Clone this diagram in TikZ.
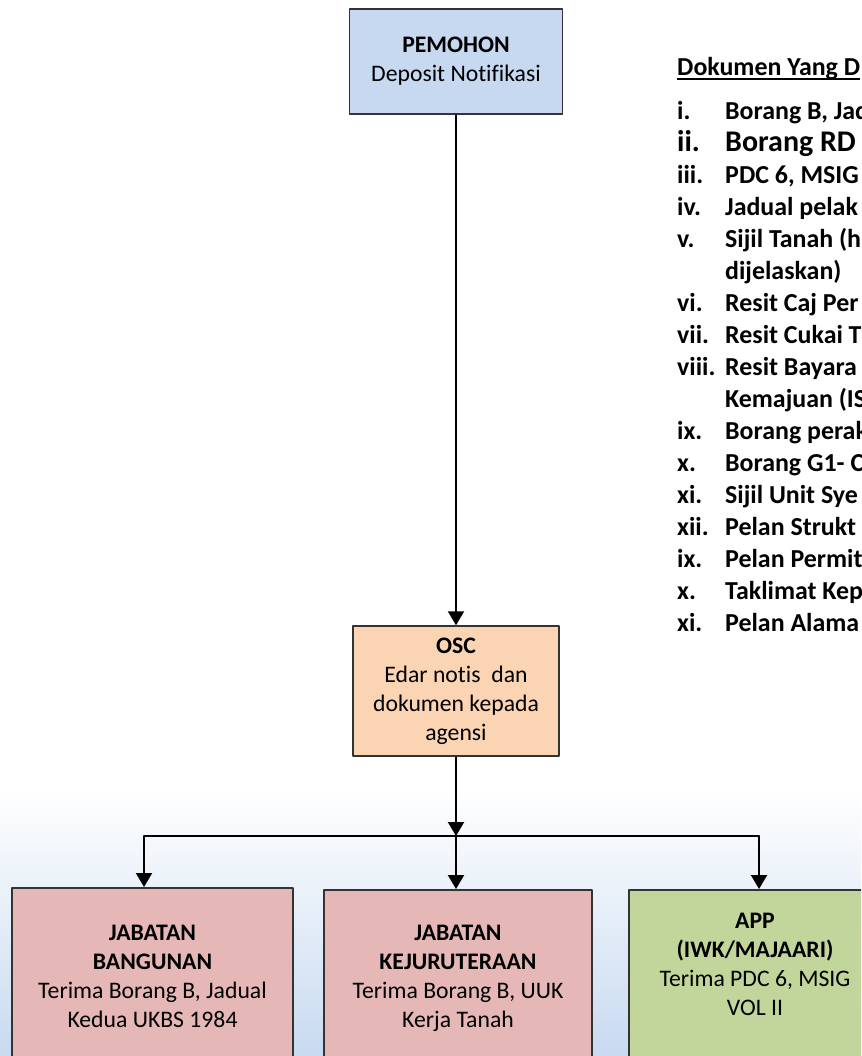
\documentclass[tikz,border=0pt]{standalone}
\usepackage{fontspec}
\setmainfont{Carlito}[Ligatures=NoCommon]
\usetikzlibrary{arrows.meta}
\definecolor{pemohonblue}{HTML}{C6D9F0}
\definecolor{oscorange}{HTML}{FBD4B4}
\definecolor{jabatanpink}{HTML}{E5B8B7}
\definecolor{appgreen}{HTML}{C2D69B}
\definecolor{bgblue}{HTML}{C8DAF0}
\definecolor{boxline}{HTML}{333333}
\newcommand{\boxfont}{\fontsize{23.7}{29}\selectfont}
\newcommand{\listfont}{\fontsize{25.9}{32}\selectfont}
\newcommand{\bigitem}{\fontsize{30}{32}\selectfont}

\begin{document}
\begin{tikzpicture}[line cap=round,line join=round,x=1pt,y=-1pt,
    box/.style={draw=boxline, line width=1.5pt, align=center, font=\boxfont, inner sep=0pt},
    arr/.style={-{Triangle[width=16pt,length=14pt]}, line width=2pt, line cap=butt}]
    \useasboundingbox (0,0) rectangle (861,1056);
    \clip (0,0) rectangle (861,1056);
    \shade[top color=white, bottom color=bgblue] (0,790) rectangle (861,1056);

    \node[box, fill=pemohonblue, minimum width=213pt, minimum height=105pt] (pemohon) at (456,61.5)
        {\textbf{PEMOHON}\\Deposit Notifikasi};
    \node[box, fill=oscorange, minimum width=206pt, minimum height=130pt] (osc) at (456,691)
        {\textbf{OSC}\\Edar notis\ \ dan\\dokumen kepada\\agensi};
    \node[box, fill=jabatanpink, anchor=north, minimum width=281pt, minimum height=178pt] (bangunan) at (152.5,887)
        {\textbf{JABATAN}\\\textbf{BANGUNAN}\\Terima Borang B, Jadual\\Kedua UKBS 1984};
    \node[box, fill=jabatanpink, anchor=north, minimum width=268pt, minimum height=178pt] (kejuruteraan) at (458,889)
        {\textbf{JABATAN}\\\textbf{KEJURUTERAAN}\\Terima Borang B, UUK\\Kerja Tanah};
    \node[box, fill=appgreen, anchor=north, minimum width=252pt, minimum height=178pt] (app) at (755,889)
        {\textbf{APP}\\\textbf{(IWK/MAJAARI)}\\Terima PDC 6, MSIG\\VOL II\\\mbox{}};

    \coordinate (split) at (456,836);
    \coordinate (lsplit) at (144,836);
    \coordinate (rsplit) at (759,836);
    \draw[arr] (pemohon) -- (osc);
    \draw[arr] (osc) -- (split);
    \draw[line width=2pt] (lsplit) -- (rsplit);
    \draw[arr] (lsplit) -- (lsplit |- bangunan.north);
    \draw[arr] (split) -- (split |- kejuruteraan.north);
    \draw[arr] (rsplit) -- (rsplit |- app.north);

    % senarai dokumen
    \node[anchor=base west, inner sep=0pt, font=\listfont\bfseries] (tajuk) at (677,76) {Dokumen Yang D};
    \draw[line width=2pt, line cap=butt] ([yshift=-3.5pt]tajuk.base west) -- ([yshift=-3.5pt]tajuk.base east);
    \node[anchor=base west, inner sep=0pt, font=\listfont\bfseries] (dokumen) at (677,120) {%
        \begin{tabular}[t]{@{}p{48pt}@{}l@{}}
        i. & Borang B, Jad\\
        \bigitem ii. & \bigitem Borang RD\\
        iii. & PDC 6, MSIG\\
        iv. & Jadual pelak\\
        v. & Sijil Tanah (h\\
           & dijelaskan)\\
        vi. & Resit Caj Per\\
        vii. & Resit Cukai T\\
        viii. & Resit Bayara\\
              & Kemajuan (IS\\
        ix. & Borang perak\\
        x. & Borang G1- C\\
        xi. & Sijil Unit Sye\\
        xii. & Pelan Strukt\\
        ix. & Pelan Permit\\
        x. & Taklimat Kep\\
        xi. & Pelan Alama
        \end{tabular}};
\end{tikzpicture}
\end{document}
